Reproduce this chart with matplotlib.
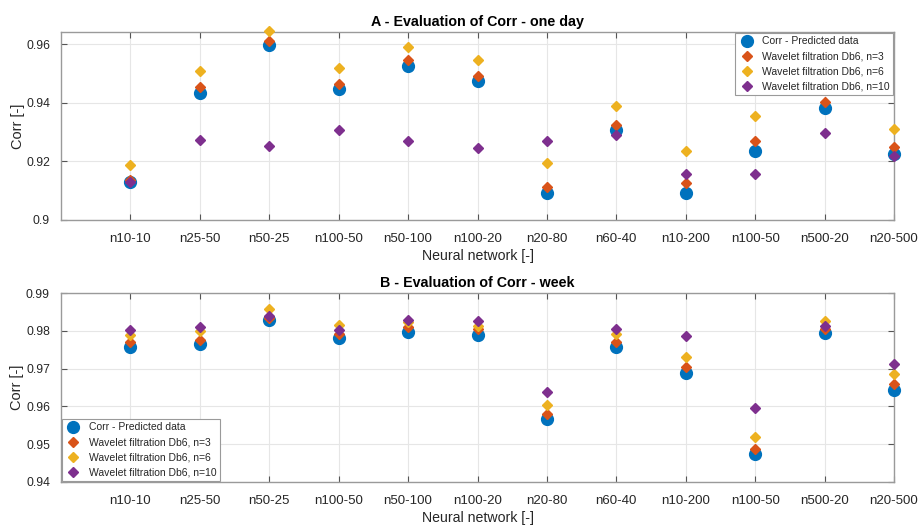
import matplotlib.pyplot as plt

plt.rcParams['font.family'] = ['Liberation Sans', 'DejaVu Sans']

NETWORKS = ["n10-10", "n25-50", "n50-25", "n100-50", "n50-100", "n100-20",
            "n20-80", "n60-40", "n10-200", "n100-50", "n500-20", "n20-500"]

# A - one day
day_pred = [0.9129, 0.9432, 0.9596, 0.9447, 0.9524, 0.9473,
            0.9091, 0.9307, 0.9091, 0.9236, 0.9382, 0.9226]
day_n3 = [0.9136, 0.9453, 0.9609, 0.9464, 0.9545, 0.9492,
          0.9112, 0.9324, 0.9125, 0.9269, 0.9404, 0.9248]
day_n6 = [0.9186, 0.9508, 0.9643, 0.9519, 0.9589, 0.9547,
          0.9194, 0.9387, 0.9236, 0.9353, 0.9445, 0.9310]
day_n10 = [0.9131, 0.9272, 0.9251, 0.9307, 0.9268, 0.9247,
           0.9269, 0.9290, 0.9158, 0.9158, 0.9298, 0.9219]

# B - week
week_pred = [0.9758, 0.9764, 0.9829, 0.9780, 0.9796, 0.9789,
             0.9566, 0.9757, 0.9689, 0.9475, 0.9794, 0.9643]
week_n3 = [0.9770, 0.9776, 0.9835, 0.9792, 0.9809, 0.9804,
           0.9579, 0.9770, 0.9704, 0.9488, 0.9805, 0.9658]
week_n6 = [0.9790, 0.9800, 0.9857, 0.9815, 0.9822, 0.9812,
           0.9604, 0.9792, 0.9732, 0.9518, 0.9826, 0.9685]
week_n10 = [0.9801, 0.9810, 0.9840, 0.9803, 0.9829, 0.9826,
            0.9638, 0.9804, 0.9785, 0.9595, 0.9812, 0.9713]

LABELS = ["Corr - Predicted data", "Wavelet filtration Db6, n=3",
          "Wavelet filtration Db6, n=6", "Wavelet filtration Db6, n=10"]
COLORS = ["#0072BD", "#D95319", "#EDB120", "#7E2F8E"]
TEXT = "#262626"


def draw(ax, series, title, ylim, yticks, yticklabels, legend_loc):
    x = range(1, len(NETWORKS) + 1)
    ax.plot(x, series[0], "o", ms=8.5, color=COLORS[0], label=LABELS[0],
            zorder=3, clip_on=False)
    for s, c, lab in zip(series[1:], COLORS[1:], LABELS[1:]):
        ax.plot(x, s, "D", ms=4.8, color=c, label=lab, zorder=3, clip_on=False)
    ax.set_xlim(0, 12)
    ax.set_ylim(*ylim)
    ax.set_xticks(list(x))
    ax.set_xticklabels(NETWORKS)
    ax.set_yticks(yticks)
    ax.set_yticklabels(yticklabels)
    ax.grid(True, color="#e6e6e6", lw=0.8)
    ax.set_axisbelow(True)
    ax.tick_params(direction="in", top=True, right=True, length=4,
                   color="#555555", labelcolor=TEXT)
    ax.tick_params(axis="x", labelsize=9.5, pad=9)
    ax.tick_params(axis="y", labelsize=8.8, pad=8)
    for sp in ax.spines.values():
        sp.set_color("#9a9a9a")
        sp.set_linewidth(1.0)
    ax.set_title(title, fontsize=10.3, fontweight="bold", pad=4)
    ax.set_xlabel("Neural network [-]", fontsize=10.2, color=TEXT, labelpad=3)
    ax.set_ylabel("Corr [-]", fontsize=10.5, color=TEXT, labelpad=1)
    leg = ax.legend(loc=legend_loc, fontsize=7.5, frameon=True, fancybox=False,
                    borderaxespad=0.05, handletextpad=0.7, borderpad=0.35,
                    labelspacing=0.5, handlelength=1.6, framealpha=1)
    leg.get_frame().set_edgecolor("#9a9a9a")
    leg.get_frame().set_linewidth(0.8)
    leg.set_zorder(5)
    for t in leg.get_texts():
        t.set_color(TEXT)


fig = plt.figure(figsize=(9.19, 5.29), dpi=100)
ax1 = fig.add_axes([61 / 919, 1 - 220 / 529, 833 / 919, 188 / 529])
ax2 = fig.add_axes([61 / 919, 1 - 482 / 529, 833 / 919, 189 / 529])

draw(ax1, [day_pred, day_n3, day_n6, day_n10], "A - Evaluation of Corr - one day",
     (0.9, 0.9641), [0.90, 0.92, 0.94, 0.96], ["0.9", "0.92", "0.94", "0.96"],
     "upper right")
draw(ax2, [week_pred, week_n3, week_n6, week_n10], "B - Evaluation of Corr - week",
     (0.94, 0.99), [0.94, 0.95, 0.96, 0.97, 0.98, 0.99],
     ["0.94", "0.95", "0.96", "0.97", "0.98", "0.99"], "lower left")

fig.savefig("out.png", dpi=100)
